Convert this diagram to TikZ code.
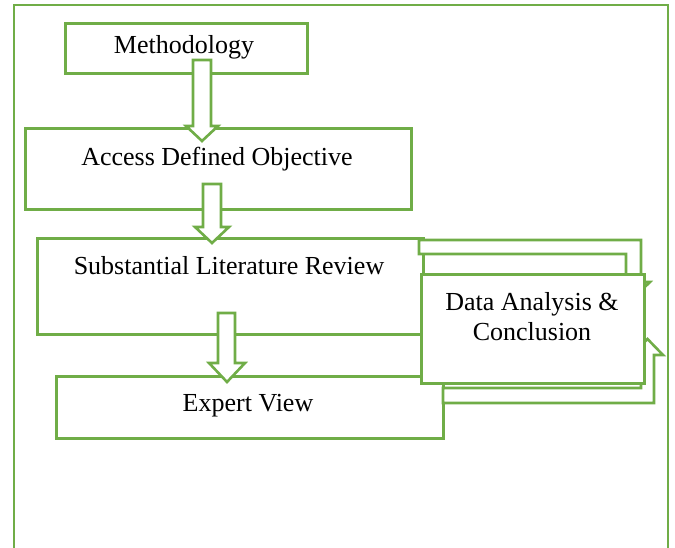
\documentclass[tikz,border=0pt]{standalone}
\usepackage{fontspec}
\setmainfont{Liberation Serif}
\definecolor{leaf}{HTML}{70AD47}
\begin{document}
\begin{tikzpicture}[x=1pt,y=-1pt,
  frameline/.style={draw=leaf,line width=2.4pt},
  boxline/.style={draw=leaf,line width=2.6pt,fill=white,line join=miter},
  flowbox/.style={boxline,rectangle,inner sep=0pt,anchor=north west},
  caption/.style={font=\fontsize{26}{30}\selectfont,inner sep=0pt,align=center,anchor=base}]
\useasboundingbox (0,0) rectangle (675,548);

% outer frame, open at the bottom
\coordinate (fbl) at (14,548);
\coordinate (ftl) at (14,5);
\coordinate (ftr) at (668,5);
\coordinate (fbr) at (668,548);
\draw[frameline] (fbl) -- (ftl) -- (ftr) -- (fbr);

% process boxes
\node[flowbox,minimum width=242pt,minimum height=50pt] (meth) at (64,22) {};
\node[flowbox,minimum width=386pt,minimum height=81pt] (obj) at (24,127) {};
\node[flowbox,minimum width=386pt,minimum height=96pt] (lit) at (36,237) {};

% block arrow: Methodology -> objective
\draw[boxline] (193,60) -- (211,60) -- (211,126) -- (218,126) -- (202,141)
  -- (186,126) -- (193,126) -- cycle;

\node[flowbox,minimum width=387pt,minimum height=62pt] (expert) at (55,375) {};

% block arrow: objective -> literature review
\draw[boxline] (203,184) -- (221,184) -- (221,227) -- (229,227) -- (212,243)
  -- (195,227) -- (203,227) -- cycle;

% bent arrows behind the analysis box
\draw[boxline] (419,240) -- (641,240) -- (641,282) -- (650,282) -- (633.5,298)
  -- (617,282) -- (626,282) -- (626,254) -- (419,254) -- cycle;
\draw[boxline] (443,403) -- (654,403) -- (654,355) -- (663,355) -- (647.5,339)
  -- (632,355) -- (641,355) -- (641,388) -- (443,388) -- cycle;

% block arrow: literature review -> expert view
\draw[boxline] (218,313) -- (235,313) -- (235,363) -- (245,363) -- (227,382)
  -- (209,363) -- (218,363) -- cycle;

\node[flowbox,minimum width=223pt,minimum height=109pt] (data) at (420,273) {};

% captions, placed on their baselines (last line for the two-line one)
\node[caption] (methT) at (184,54) {Methodology};
\node[caption] (objT) at (217,165.5) {Access Defined Objective};
\node[caption] (litT) at (229,274.5) {Substantial Literature Review};
\node[caption] (expT) at (248,411.5) {Expert View};
\node[caption] (dataT) at (532,340.5) {Data Analysis \&\\Conclusion};
\end{tikzpicture}
\end{document}
